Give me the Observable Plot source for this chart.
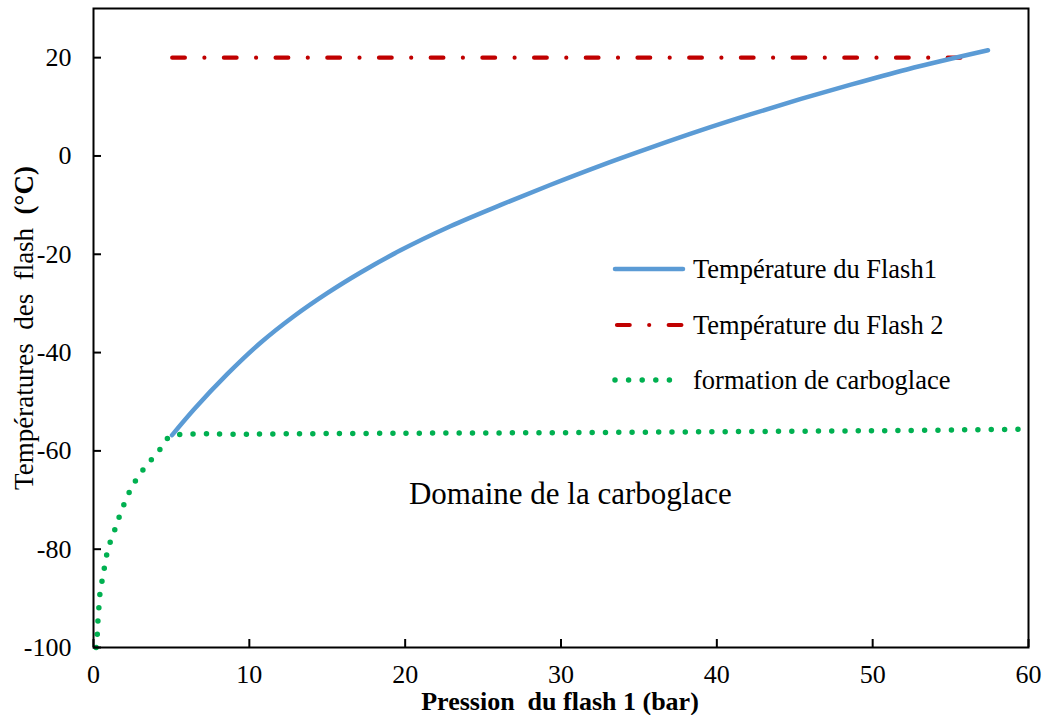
<!DOCTYPE html>
<html><head><meta charset="utf-8">
<script src="https://cdn.jsdelivr.net/npm/d3@7"></script>
<script src="https://cdn.jsdelivr.net/npm/@observablehq/plot@0.6"></script>
<style>
body{margin:0;background:#fff;}
#wrap{width:1046px;height:715px;}
svg text{white-space:pre;}
</style></head><body><div id="wrap"></div>
<script>
// ---- data ----
const xTicks = [0, 10, 20, 30, 40, 50, 60];
const yTicks = [-100, -80, -60, -40, -20, 0, 20];

const flash1P = [5.04, 6.44, 8.58, 10.72, 12.86, 15.0, 17.14, 19.7, 22.9, 26.1, 29.3, 32.5, 35.75, 38.96, 42.2, 45.4, 48.6, 52.2, 57.4];
const flash1T = [-56.8, -51.6, -44.4, -38.0, -32.6, -27.9, -23.7, -19.2, -14.3, -10.0, -5.9, -2.0, 1.7, 5.2, 8.5, 11.6, 14.5, 17.6, 21.5];

const flash2P = [5.05, 56.6];
const flash2T = [20, 20];

const iceP = [0.17, 0.24, 0.28, 0.34, 0.40, 0.53, 0.68, 0.83, 1.05, 1.35, 1.62, 1.93, 2.27, 2.67, 3.14, 3.68, 4.24, 4.73, 5.3, 10, 20, 30, 40, 50, 59.7];
const iceT = [-100, -97.5, -94.8, -92.1, -89.4, -86.8, -84.1, -81.4, -78.8, -76.2, -73.7, -71.1, -68.6, -66.2, -64.0, -61.9, -59.8, -57.5, -56.8, -56.6, -56.4, -56.3, -56.1, -55.9, -55.6];

const seriesNames = ["Température du Flash1", "Température du Flash 2", "formation de carboglace"];
const annotation = [{p: 30.6, t: -68.8, label: "Domaine de la carboglace"}];
const xTitle = "Pression  du flash 1 (bar)";
const yTitle = "Températures  des  flash  ";
const yUnit = "(°C)";

// ---- tables ----
const flash1 = flash1P.map((p, i) => ({p, t: flash1T[i]}));
const flash2 = flash2P.map((p, i) => ({p, t: flash2T[i]}));
const ice = iceP.map((p, i) => ({p, t: iceT[i]}));

const BLUE = "#5B9BD5", RED = "#C00000", GREEN = "#00B050";
const FONT = "'Liberation Serif','Times New Roman',serif";

const chart = Plot.plot({
  width: 1046, height: 715,
  marginLeft: 93, marginRight: 18, marginTop: 8, marginBottom: 68,
  style: {fontFamily: FONT, fontSize: "26px", color: "#000", background: "#fff"},
  x: {domain: [0, 60], ticks: xTicks},
  y: {domain: [-100, 30], ticks: yTicks},
  marks: [
    Plot.line(ice, {x: "p", y: "t", stroke: GREEN, strokeWidth: 5.5, strokeLinecap: "round", strokeDasharray: "0 13.3", curve: "catmull-rom"}),
    Plot.line(flash2, {x: "p", y: "t", stroke: RED, strokeWidth: 4.2, strokeLinecap: "round", strokeDasharray: "12.7 19.5 0 19.5"}),
    Plot.line(flash1, {x: "p", y: "t", stroke: BLUE, strokeWidth: 4.5, strokeLinecap: "round", curve: "monotone-x"}),
    Plot.text(annotation, {x: "p", y: "t", text: "label", fontSize: 31, fill: "#000", fontFamily: FONT}),
    Plot.frame({stroke: "#000", strokeWidth: 2}),
    Plot.axisX({ticks: xTicks, tickSize: -8, tickPadding: 25, label: null, strokeWidth: 2}),
    Plot.axisY({ticks: yTicks, tickSize: -8, tickPadding: 30, label: null, strokeWidth: 2, tickFormat: d => String(d)})
  ]
});
document.getElementById("wrap").appendChild(chart);

// ---- titles & legend ----
const svg = d3.select(chart);
svg.append("text").attr("x", 560).attr("y", 701)
  .attr("text-anchor", "middle").attr("dominant-baseline", "central")
  .attr("font-family", FONT).attr("font-size", 26).attr("font-weight", "bold")
  .attr("fill", "#000").text(xTitle);

const yt = svg.append("text").attr("transform", "translate(24,328) rotate(-90)")
  .attr("text-anchor", "middle").attr("dominant-baseline", "central")
  .attr("font-family", FONT).attr("font-size", 27).attr("fill", "#000");
yt.append("tspan").text(yTitle);
yt.append("tspan").attr("font-weight", "bold").text(yUnit);

const leg = svg.append("g");
const rows = [
  {y: 269, stroke: BLUE, w: 4.5, dash: null, x1: 615, x2: 683},
  {y: 325, stroke: RED, w: 4.2, dash: "12.7 19.5 0 19.5", x1: 617, x2: 681.4},
  {y: 380, stroke: GREEN, w: 5.5, dash: "0 13.6", x1: 615, x2: 683}
];
rows.forEach((r, i) => {
  leg.append("line").attr("x1", r.x1).attr("x2", r.x2).attr("y1", r.y).attr("y2", r.y)
    .attr("stroke", r.stroke).attr("stroke-width", r.w).attr("stroke-linecap", "round")
    .attr("stroke-dasharray", r.dash);
  leg.append("text").attr("x", 693).attr("y", r.y).attr("dominant-baseline", "central")
    .attr("text-anchor", "start")
    .attr("font-family", FONT).attr("font-size", 26.5).attr("fill", "#000").text(seriesNames[i]);
});
</script></body></html>
